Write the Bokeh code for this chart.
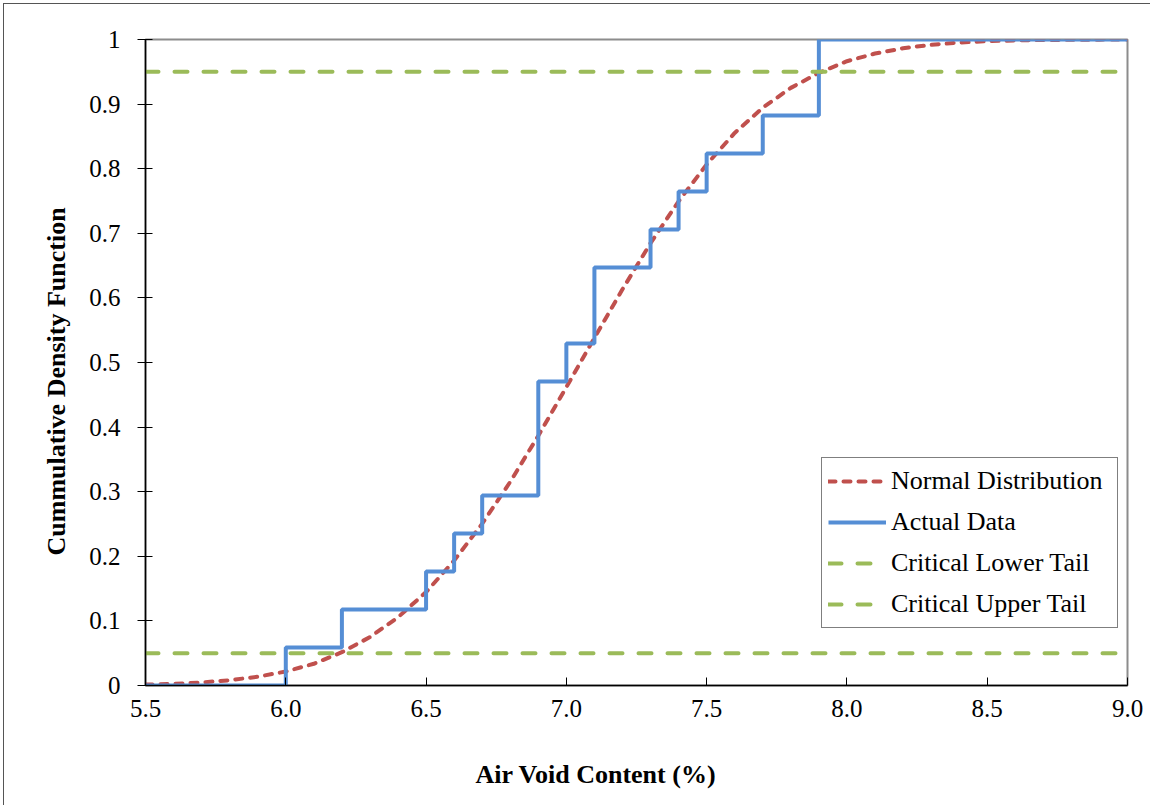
from bokeh.plotting import figure
from bokeh.models import Range1d, FixedTicker, Legend, LegendItem, Title
from bokeh.embed import file_html
from bokeh.resources import INLINE

# Normal distribution curve
norm_x = [5.5, 5.6, 5.7, 5.8, 5.9, 6.0, 6.1, 6.2, 6.3, 6.4, 6.5, 6.6, 6.7, 6.8, 6.9, 7.0,
          7.1, 7.2, 7.3, 7.4, 7.5, 7.6, 7.7, 7.8, 7.9, 8.0, 8.1, 8.2, 8.3, 8.4, 8.5,
          8.6, 8.7, 8.8, 8.9, 9.0]
norm_y = [0.0014, 0.0026, 0.0047, 0.0082, 0.0136, 0.0217, 0.0336, 0.0516, 0.0749, 0.1056,
          0.1446, 0.1935, 0.2505, 0.3153, 0.3867, 0.4618, 0.5382, 0.6133, 0.6847, 0.7495,
          0.8065, 0.8554, 0.8944, 0.9251, 0.9484, 0.9664, 0.9783, 0.9864, 0.9918, 0.9953,
          0.9974, 0.9986, 0.9992, 0.9996, 0.9998, 0.9999]

# Actual data empirical CDF (steps)
actual_x = [5.5, 6.0, 6.2, 6.5, 6.6, 6.7, 6.9, 7.0, 7.1, 7.3, 7.4, 7.5, 7.7, 7.9, 9.0]
actual_y = [0.0, 0.0588, 0.1176, 0.1765, 0.2353, 0.2941, 0.4706, 0.5294, 0.6471, 0.7059,
            0.7647, 0.8235, 0.8824, 1.0, 1.0]

lower_tail = 0.05
upper_tail = 0.95
tail_x = [5.5, 9.0]

x_ticks = [5.5, 6.0, 6.5, 7.0, 7.5, 8.0, 8.5, 9.0]
x_tick_labels = ["5.5", "6.0", "6.5", "7.0", "7.5", "8.0", "8.5", "9.0"]
y_ticks = [0, 0.1, 0.2, 0.3, 0.4, 0.5, 0.6, 0.7, 0.8, 0.9, 1.0]
y_tick_labels = ["0", "0.1", "0.2", "0.3", "0.4", "0.5", "0.6", "0.7", "0.8", "0.9", "1"]

FONT = "Liberation Serif"

p = figure(width=1147, height=826, output_backend="svg", toolbar_location=None,
           x_range=Range1d(5.5, 9.0), y_range=Range1d(0, 1))
p.margin = (3, 0, 0, 3)
p.styles = {"border-left": "1px solid #555555", "border-top": "1px solid #555555"}
p.min_border_left = 141
p.min_border_right = 24
p.min_border_top = 35
p.min_border_bottom = 145
p.background_fill_color = "white"
p.border_fill_color = "white"
p.outline_line_color = "#8c8c8c"
p.outline_line_width = 2
p.xgrid.visible = False
p.ygrid.visible = False

# axes
p.xaxis.ticker = FixedTicker(ticks=x_ticks)
p.xaxis.major_label_overrides = {t: l for t, l in zip(x_ticks, x_tick_labels)}
p.yaxis.ticker = FixedTicker(ticks=y_ticks)
p.yaxis.major_label_overrides = {t: l for t, l in zip(y_ticks, y_tick_labels)}
for ax in (p.xaxis[0], p.yaxis[0]):
    ax.axis_line_color = "black"
    ax.axis_line_width = 1.5
    ax.major_tick_line_color = "black"
    ax.major_tick_line_width = 1
    ax.minor_tick_line_color = None
    ax.major_label_text_font = FONT
    ax.major_label_text_font_size = "25px"
    ax.major_label_text_color = "black"
p.xaxis.major_tick_in = 8
p.xaxis.major_tick_out = 0
p.xaxis.major_label_standoff = 14
p.yaxis.major_tick_in = 7
p.yaxis.major_tick_out = 8
p.yaxis.major_label_standoff = 17

r_norm = p.line(norm_x, norm_y, line_color="#C0504D", line_width=4, line_dash="7 8",
                line_cap="round")
r_act = p.step(actual_x, actual_y, mode="after", line_color="#558ED5", line_width=4)
r_low = p.line(tail_x, [lower_tail, lower_tail], line_color="#9BBB59", line_width=4,
               line_dash="13 16", line_cap="round")
r_up = p.line(tail_x, [upper_tail, upper_tail], line_color="#9BBB59", line_width=4,
              line_dash="13 16", line_cap="round")

legend = Legend(items=[
    LegendItem(label="Normal Distribution", renderers=[r_norm]),
    LegendItem(label="Actual Data", renderers=[r_act]),
    LegendItem(label="Critical Lower Tail", renderers=[r_low]),
    LegendItem(label="Critical Upper Tail", renderers=[r_up]),
], location=(676, 57))
legend.label_text_font = FONT
legend.label_text_font_size = "26px"
legend.label_text_color = "black"
legend.border_line_color = "black"
legend.border_line_width = 1.5
legend.background_fill_alpha = 1
legend.glyph_width = 58
legend.glyph_height = 34
legend.label_height = 34
legend.spacing = 7
legend.padding = 6
legend.margin = 0
legend.label_standoff = 5
legend.label_width = 220
p.add_layout(legend)

# axis titles
xt = Title(text="Air Void Content (%)", align="left", offset=330, standoff=76,
           text_font=FONT, text_font_size="26px", text_font_style="bold",
           text_color="black")
p.add_layout(xt, "below")
yt = Title(text="Cummulative Density Function", align="left", offset=130, standoff=31,
           text_font=FONT, text_font_size="26px", text_font_style="bold",
           text_color="black")
p.add_layout(yt, "left")

open("out.html", "w").write(file_html(p, INLINE))
